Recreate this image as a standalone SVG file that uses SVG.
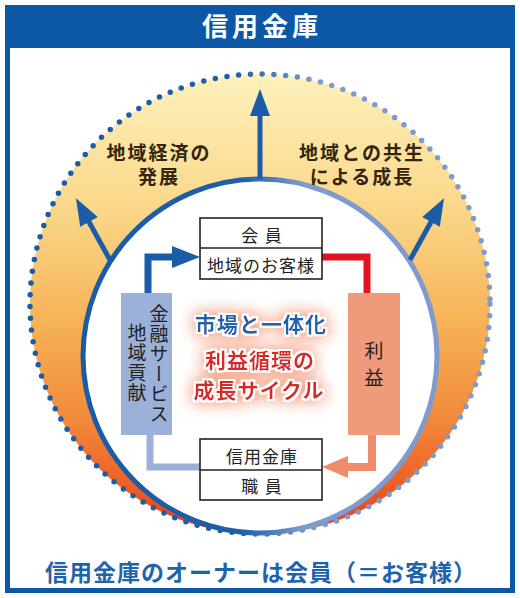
<svg xmlns="http://www.w3.org/2000/svg" width="520" height="598" viewBox="0 0 520 598">
<defs>
<style>
.jp{font-family:"Liberation Sans","Noto Sans CJK JP",sans-serif;}
.lbl{font-size:19px;font-weight:bold;fill:#33250f;letter-spacing:2px;text-anchor:middle;}
.box{fill:#ffffff;stroke:#222;stroke-width:1.6;}
.boxt{font-size:17px;fill:#222;text-anchor:middle;letter-spacing:1px;}
.vt{font-size:19px;fill:#222;writing-mode:vertical-rl;letter-spacing:1px;}
.big{fill:none;stroke:#1a5ca7;stroke-width:5;marker-end:url(#bigHead);}
</style>
<linearGradient id="ringFill" x1="0" y1="0" x2="0" y2="1">
<stop offset="0" stop-color="#fdf1bc"/>
<stop offset="0.3" stop-color="#fad787"/>
<stop offset="0.55" stop-color="#f6b155"/>
<stop offset="0.75" stop-color="#f2893a"/>
<stop offset="0.9" stop-color="#ec5d25"/>
<stop offset="1" stop-color="#e3391b"/>
</linearGradient>
<linearGradient id="blueEdge" x1="0" y1="0" x2="1" y2="0">
<stop offset="0" stop-color="#1a5ba6"/>
<stop offset="0.45" stop-color="#1f5fa9"/>
<stop offset="0.62" stop-color="#7d9bcf"/>
<stop offset="1" stop-color="#7d9bcf"/>
</linearGradient>
<marker id="bigHead" markerUnits="userSpaceOnUse" viewBox="0 -11 28 22" markerWidth="28" markerHeight="22" refX="1" refY="0" orient="auto" overflow="visible">
<path d="M0,-10 L27,0 L0,10 Z" fill="#1a5ca7"/>
</marker>
<filter id="glow" x="-40%" y="-60%" width="180%" height="220%">
<feMorphology in="SourceAlpha" operator="dilate" radius="3" result="d"/>
<feGaussianBlur in="d" stdDeviation="8" result="b"/>
<feFlood flood-color="#f2875f" flood-opacity="0.85"/>
<feComposite in2="b" operator="in" result="g"/>
<feMorphology in="SourceAlpha" operator="dilate" radius="1.5" result="d2"/>
<feFlood flood-color="#ffffff"/>
<feComposite in2="d2" operator="in" result="o"/>
<feMerge><feMergeNode in="g"/><feMergeNode in="o"/><feMergeNode in="SourceGraphic"/></feMerge>
</filter>
</defs>

<rect x="0" y="0" width="520" height="598" fill="#ffffff"/>

<g id="frame">
<rect x="7.5" y="7.5" width="505" height="583" fill="#ffffff" stroke="#0d58a6" stroke-width="5"/>
<rect x="5" y="5" width="510" height="43" fill="#0d58a6"/>
<text class="jp" x="262" y="36" font-size="26" font-weight="bold" fill="#ffffff" text-anchor="middle" letter-spacing="4">信用金庫</text>
</g>

<g id="ring">
<circle cx="260" cy="304" r="230" fill="url(#ringFill)"/>
<circle cx="260" cy="304" r="230" fill="none" stroke="url(#blueEdge)" stroke-width="5.5" stroke-linecap="round" stroke-dasharray="0 11.8"/>
<circle cx="260" cy="356" r="177" fill="#ffffff" stroke="url(#blueEdge)" stroke-width="5"/>
</g>

<g id="labels">
<text class="jp lbl" x="159" y="160">地域経済の</text>
<text class="jp lbl" x="159" y="184">発展</text>
<text class="jp lbl" x="362" y="160">地域との共生</text>
<text class="jp lbl" x="362" y="184">による成長</text>
</g>

<g id="connectors">
<path class="big" d="M260,179 L260,115"/>
<path class="big" d="M110,260 L88.5,221"/>
<path class="big" d="M410,260 L431.5,221"/>
<path d="M148,293 L148,257 L173,257" fill="none" stroke="#1a5ca7" stroke-width="7"/>
<polygon points="172,246 200,257 172,268" fill="#1a5ca7"/>
<path d="M322,257 L367,257 L367,293" fill="none" stroke="#e0141e" stroke-width="7"/>
<path d="M150,435 L150,467 L200,467" fill="none" stroke="#9cb1da" stroke-width="7"/>
<path d="M372,435 L372,467 L347,467" fill="none" stroke="#ee8c6c" stroke-width="8"/>
<polygon points="348,456 322,467 348,478" fill="#ee8c6c"/>
</g>

<g id="member">
<rect class="box" x="200" y="218" width="122" height="61"/>
<line x1="200" y1="248" x2="322" y2="248" stroke="#222" stroke-width="1.6"/>
<text class="jp boxt" x="262" y="242">会 員</text>
<text class="jp boxt" x="261" y="272">地域のお客様</text>
</g>

<g id="staff">
<rect class="box" x="200" y="439" width="122" height="61"/>
<line x1="200" y1="470" x2="322" y2="470" stroke="#222" stroke-width="1.6"/>
<text class="jp boxt" x="262" y="463">信用金庫</text>
<text class="jp boxt" x="262" y="493">職 員</text>
</g>

<g id="services">
<rect x="121" y="293" width="51" height="142" fill="#9cb1da"/>
<text class="jp vt" x="157" y="304">金融サービス</text>
<text class="jp vt" x="135" y="323">地域貢献</text>
</g>

<g id="profit">
<rect x="348" y="293" width="52" height="142" fill="#f09a7c"/>
<text class="jp" x="374" y="358" font-size="19" fill="#222" text-anchor="middle">利</text>
<text class="jp" x="374" y="385" font-size="19" fill="#222" text-anchor="middle">益</text>
</g>

<g id="cycle" filter="url(#glow)">
<text class="jp" x="261" y="332" font-size="21" font-weight="bold" fill="#1e63ad" text-anchor="middle" letter-spacing="1">市場と一体化</text>
<text class="jp" x="260" y="368" font-size="21" font-weight="bold" fill="#d42a2a" text-anchor="middle" letter-spacing="1">利益循環の</text>
<text class="jp" x="259" y="398" font-size="21" font-weight="bold" fill="#d42a2a" text-anchor="middle" letter-spacing="1">成長サイクル</text>
</g>

<g id="footer">
<text class="jp" x="261" y="581" font-size="23" font-weight="bold" fill="#1e63ad" text-anchor="middle" letter-spacing="1">信用金庫のオーナーは会員（＝お客様）</text>
</g>
</svg>
